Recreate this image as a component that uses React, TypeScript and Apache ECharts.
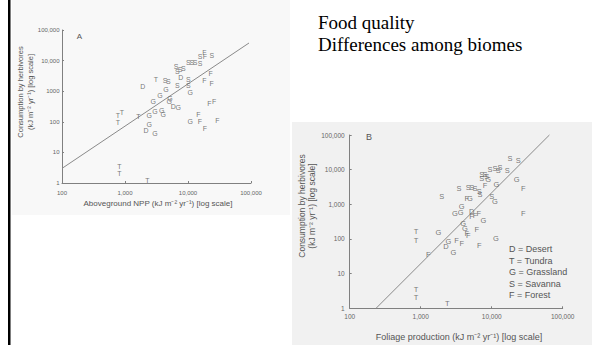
import React, { useEffect, useRef } from 'react';
import * as echarts from 'echarts';

// Tick labels
const xTicksA = ['100', '1,000', '10,000', '100,000'];
const yTicksA = ['1', '10', '100', '1000', '10,000', '100,000'];
const xTicksB = ['100', '1,000', '10,000', '100,000'];
const yTicksB = ['1', '10', '100', '1,000', '10,000', '100,000'];

const legendLines = ['D = Desert', 'T = Tundra', 'G = Grassland', 'S = Savanna', 'F = Forest'];
const titleLines = ['Food quality', 'Differences among biomes'];

// Panel A: aboveground NPP vs consumption
const desertA = [[1910, 1400], [2150, 51], [5850, 328], [7660, 2850]];
const tundraA = [[774, 155], [774, 98], [896, 194], [1630, 144], [813, 3.4], [813, 2.1], [2260, 1.25], [3100, 2500]];
const grassA = [[2430, 79], [2990, 40], [2430, 155], [2990, 214], [3830, 243], [4060, 176], [2810, 454], [3590, 697], [4480, 1150], [5180, 586], [5050, 454], [7010, 298], [10800, 893], [10800, 101]];
const savannaA = [[4310, 2320], [4870, 2040], [6760, 1480], [10100, 2450], [10100, 1480], [6460, 6660], [6760, 4340], [8410, 5600], [10100, 8540], [11500, 8540], [12900, 8540], [15500, 8160], [15500, 14100], [23800, 15200], [7470, 5200]];
const forestA = [[18200, 18100], [18600, 14100], [22900, 3650], [18200, 2200], [23800, 1790], [21800, 402], [25900, 454], [14600, 167], [15500, 101], [18600, 61], [29200, 109]];
const fitA = [[100, 3], [93000, 37600]];

// Panel B: foliage production vs consumption
const desertB = [[2270, 60], [5220, 620]];
const tundraB = [[859, 164], [859, 90], [859, 3.6], [859, 2.1], [2370, 1.4]];
const grassB = [[1770, 157], [2450, 84], [2880, 41], [3040, 557], [3660, 595], [3780, 863], [4940, 1440], [3980, 286], [4200, 205], [7620, 349], [11500, 101], [11700, 3660], [11100, 1210], [22500, 5100], [8950, 5100]];
const savannaB = [[1980, 1680], [3460, 2940], [4680, 3060], [5220, 3060], [5820, 2940], [6690, 2340], [6840, 1880], [10000, 1680], [7230, 7460], [8050, 7130], [9460, 9940], [11100, 11100], [13100, 11600], [12400, 9290], [16600, 9290], [8510, 6360], [7230, 5720], [18100, 20600], [23700, 18100]];
const forestB = [[1280, 35], [3210, 88], [3780, 76], [4450, 1440], [5220, 444], [5820, 465], [6560, 557], [4450, 147], [4680, 123], [6150, 192], [6690, 67], [8050, 3490], [27900, 2940], [27900, 557]];
const fitB = [[235, 1], [65000, 100000]];

const SANS = '"Liberation Sans", Arial, sans-serif';
const SERIF = '"Liberation Serif", "Times New Roman", serif';
const INK = '#555';

function logAxis(min: number, max: number, labels: string[], offset: number, gridIndex: number, margin: number, fs: number) {
  return {
    type: 'log' as const,
    logBase: 10,
    min,
    max,
    gridIndex,
    axisLine: { show: true, lineStyle: { color: '#808080', width: 1 } },
    axisTick: { show: true, inside: true, length: 2, lineStyle: { color: '#808080' } },
    minorTick: { show: false },
    splitLine: { show: false },
    axisLabel: {
      show: true,
      margin,
      fontSize: fs,
      color: '#666',
      fontFamily: SANS,
      formatter: (v: number) => labels[Math.round(Math.log10(v)) - offset] ?? '',
    },
  };
}

function letters(data: number[][], letter: string, axis: number, fs: number) {
  return {
    type: 'scatter' as const,
    xAxisIndex: axis,
    yAxisIndex: axis,
    data,
    symbolSize: 1,
    itemStyle: { color: 'rgba(0,0,0,0)' },
    label: { show: true, position: 'inside' as const, formatter: () => letter, fontSize: fs, color: INK, fontFamily: SANS },
    z: 5,
  };
}

function fitLine(data: number[][], axis: number) {
  return {
    type: 'line' as const,
    xAxisIndex: axis,
    yAxisIndex: axis,
    data,
    symbol: 'none',
    clip: false,
    lineStyle: { color: '#8a8a8a', width: 1 },
    z: 3,
  };
}

export default function App() {
  const ref = useRef<HTMLDivElement>(null);
  useEffect(() => {
    if (!ref.current) return;
    const chart = echarts.init(ref.current, null, { renderer: 'svg' });
    const sup = (t: string) => t;
    chart.setOption({
      animation: false,
      backgroundColor: '#ffffff',
      grid: [
        { left: 62, top: 30, width: 189, height: 153 },
        { left: 349.7, top: 135, width: 213, height: 173.3 },
      ],
      xAxis: [
        logAxis(100, 100000, xTicksA, 2, 0, 6.5, 6),
        logAxis(100, 100000, xTicksB, 2, 1, 5, 6.5),
      ],
      yAxis: [
        logAxis(1, 100000, yTicksA, 0, 0, 2.5, 6),
        logAxis(1, 100000, yTicksB, 0, 1, 5, 6.5),
      ],
      series: [
        fitLine(fitA, 0),
        letters(desertA, 'D', 0, 7),
        letters(tundraA, 'T', 0, 7),
        letters(grassA, 'G', 0, 7),
        letters(savannaA, 'S', 0, 7),
        letters(forestA, 'F', 0, 7),
        fitLine(fitB, 1),
        letters(desertB, 'D', 1, 7.5),
        letters(tundraB, 'T', 1, 7.5),
        letters(grassB, 'G', 1, 7.5),
        letters(savannaB, 'S', 1, 7.5),
        letters(forestB, 'F', 1, 7.5),
      ],
      graphic: [
        { type: 'rect', z: -10, shape: { x: 12, y: 0, width: 278, height: 215 }, style: { fill: '#f8f8f8' } },
        { type: 'rect', z: -10, shape: { x: 292, y: 122, width: 300, height: 223 }, style: { fill: '#f1f1f1' } },
        { type: 'rect', z: 10, shape: { x: 8, y: 0, width: 2.5, height: 345 }, style: { fill: '#000' } },
        { type: 'text', x: 318, y: 22.5, style: { text: titleLines[0], font: `19px ${SERIF}`, fill: '#000', align: 'left', verticalAlign: 'middle' } },
        { type: 'text', x: 318, y: 44.5, style: { text: titleLines[1], font: `19px ${SERIF}`, fill: '#000', align: 'left', verticalAlign: 'middle' } },
        { type: 'text', x: 79.3, y: 36.7, style: { text: 'A', font: `8px ${SANS}`, fill: INK, align: 'center', verticalAlign: 'middle' } },
        { type: 'text', x: 369, y: 136.7, style: { text: 'B', font: `9px ${SANS}`, fill: INK, align: 'center', verticalAlign: 'middle' } },
        { type: 'text', x: 158, y: 203, style: { text: 'Aboveground NPP (kJ m' + sup('⁻²') + ' yr' + sup('⁻¹') + ') [log scale]', font: `8px ${SANS}`, fill: INK, align: 'center', verticalAlign: 'middle' } },
        { type: 'text', x: 20.7, y: 92, rotation: Math.PI / 2, style: { text: 'Consumption by herbivores', font: `7.5px ${SANS}`, fill: INK, align: 'center', verticalAlign: 'middle' } },
        { type: 'text', x: 30, y: 92, rotation: Math.PI / 2, style: { text: '(kJ m⁻² yr⁻¹) [log scale]', font: `7.5px ${SANS}`, fill: INK, align: 'center', verticalAlign: 'middle' } },
        { type: 'text', x: 459, y: 336.5, style: { text: 'Foliage production (kJ m⁻² yr⁻¹) [log scale]', font: `9px ${SANS}`, fill: INK, align: 'center', verticalAlign: 'middle' } },
        { type: 'text', x: 302, y: 206, rotation: Math.PI / 2, style: { text: 'Consumption by herbivores', font: `8.5px ${SANS}`, fill: INK, align: 'center', verticalAlign: 'middle' } },
        { type: 'text', x: 312, y: 206, rotation: Math.PI / 2, style: { text: '(kJ m⁻² yr⁻¹) [log scale]', font: `8.5px ${SANS}`, fill: INK, align: 'center', verticalAlign: 'middle' } },
        ...legendLines.map((t, i) => ({
          type: 'text', x: 509, y: 249 + i * 11.6,
          style: { text: t, font: `9px ${SANS}`, fill: INK, align: 'left', verticalAlign: 'middle' },
        })),
      ],
    });
    return () => chart.dispose();
  }, []);
  return <div ref={ref} style={{ position: 'absolute', left: 0, top: 0, width: 592, height: 345 }} />;
}
